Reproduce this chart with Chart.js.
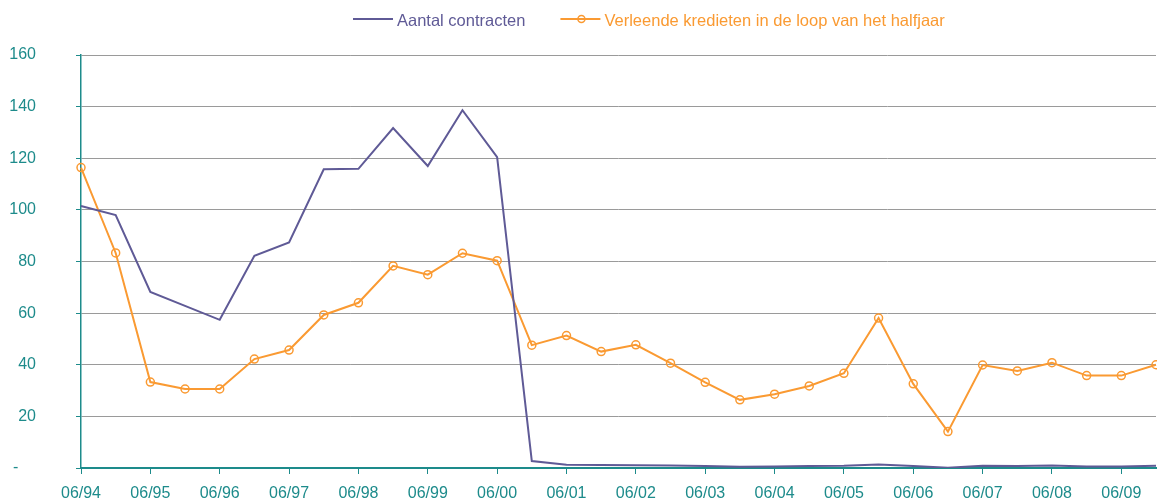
<!DOCTYPE html>
<html lang="nl">
<head>
    <meta charset="UTF-8">
    <title>Aantal contracten en verleende kredieten</title>
    <style>
        body { margin: 0; background: #ffffff; }
        #wrap { width: 1157px; height: 501px; }
    </style>
    <script src="https://cdn.jsdelivr.net/npm/chart.js"></script>
</head>
<body>
<div id="wrap"><canvas id="lineChart" width="1157" height="501"></canvas></div>

<script>
    // half-year periods, only the June ones get a label on the axis
    const periods = ['06/94', '12/94', '06/95', '12/95', '06/96', '12/96', '06/97', '12/97',
        '06/98', '12/98', '06/99', '12/99', '06/00', '12/00', '06/01', '12/01',
        '06/02', '12/02', '06/03', '12/03', '06/04', '12/04', '06/05', '12/05',
        '06/06', '12/06', '06/07', '12/07', '06/08', '12/08', '06/09', '12/09'];

    const contracts = [101.5, 98, 68.2, 62.8, 57.4, 82.2, 87.4, 115.7,
        115.9, 131.7, 117, 138.6, 120.4, 2.7, 1.3, 1.2,
        1.1, 1.0, 0.8, 0.5, 0.6, 0.8, 0.9, 1.4,
        0.8, 0.1, 0.9, 0.8, 1.0, 0.6, 0.6, 0.9];

    const credits = [116.4, 83.3, 33.3, 30.6, 30.6, 42.2, 45.7, 59.3,
        64, 78.3, 74.9, 83.2, 80.3, 47.6, 51.3, 45.1,
        47.7, 40.6, 33.2, 26.4, 28.6, 31.8, 36.7, 58.1,
        32.6, 14.1, 39.9, 37.6, 40.8, 35.8, 35.8, 40];

    const yTicks = [0, 20, 40, 60, 80, 100, 120, 140, 160];

    const seriesNames = ['Aantal contracten', 'Verleende kredieten in de loop van het halfjaar'];

    const teal = '#1d8b8b';
    const purple = '#5f5a96';
    const orange = '#fa9a32';
    const font = "Arial, 'Liberation Sans', sans-serif";

    // legend drawn by hand: line (+ marker) followed by coloured text
    const topLegend = {
        id: 'topLegend',
        afterDraw(chart) {
            const ctx = chart.ctx;
            const y = 19;
            let x = 353;
            ctx.save();
            ctx.font = '16.5px ' + font;
            ctx.textBaseline = 'alphabetic';
            chart.data.datasets.forEach((ds) => {
                ctx.strokeStyle = ds.borderColor;
                ctx.lineWidth = 2;
                ctx.beginPath();
                ctx.moveTo(x, y);
                ctx.lineTo(x + 40, y);
                ctx.stroke();
                if (ds.pointRadius > 0) {
                    ctx.lineWidth = 1.5;
                    ctx.beginPath();
                    ctx.arc(x + 21, y, 3.5, 0, Math.PI * 2);
                    ctx.stroke();
                }
                ctx.fillStyle = ds.borderColor;
                ctx.fillText(ds.label, x + 44, 25.5);
                x += 44 + ctx.measureText(ds.label).width + 35;
            });
            ctx.restore();
        }
    };

    const ctxLine = document.getElementById('lineChart').getContext('2d');
    const lineChart = new Chart(ctxLine, {
        type: 'line',
        data: {
            labels: periods,
            datasets: [{
                label: seriesNames[0],
                data: contracts,
                borderColor: purple,
                backgroundColor: purple,
                borderWidth: 2,
                pointRadius: 0,
                tension: 0
            }, {
                label: seriesNames[1],
                data: credits,
                borderColor: orange,
                backgroundColor: 'rgba(255,255,255,0)',
                borderWidth: 2,
                pointRadius: 4,
                pointBorderWidth: 1.5,
                pointBorderColor: orange,
                pointBackgroundColor: 'rgba(255,255,255,0)',
                tension: 0
            }]
        },
        options: {
            responsive: false,
            animation: false,
            layout: { autoPadding: false, padding: { top: 55, right: 1, left: 0, bottom: 0 } },
            plugins: {
                legend: { display: false },
                tooltip: { enabled: false }
            },
            scales: {
                x: {
                    offset: false,
                    afterFit: (scale) => {
                        scale.height = 33;
                        scale.paddingLeft = 0;
                        scale.paddingRight = 0;
                    },
                    border: { color: teal, width: 2 },
                    grid: {
                        drawOnChartArea: false,
                        tickLength: 6,
                        tickColor: (c) => (c.index % 2 === 0 ? teal : 'rgba(0,0,0,0)')
                    },
                    ticks: {
                        autoSkip: false,
                        maxRotation: 0,
                        padding: 10,
                        color: teal,
                        font: { family: font, size: 16 },
                        callback: (v, i) => (i % 2 === 0 ? periods[i] : '')
                    }
                },
                y: {
                    min: yTicks[0],
                    max: yTicks[yTicks.length - 1],
                    afterFit: (scale) => {
                        scale.width = 81;
                        scale.paddingTop = 0;
                        scale.paddingBottom = 0;
                    },
                    afterBuildTicks: (scale) => { scale.ticks = yTicks.map(v => ({ value: v })); },
                    border: { color: teal, width: 1.5 },
                    grid: {
                        color: '#9a9a9a',
                        lineWidth: 1,
                        tickLength: 5,
                        tickColor: teal
                    },
                    ticks: {
                        padding: 40,
                        color: teal,
                        font: { family: font, size: 16 },
                        callback: (v) => (v === 0 ? '-    ' : v)
                    }
                }
            }
        },
        plugins: [topLegend]
    });
</script>
</body>
</html>
